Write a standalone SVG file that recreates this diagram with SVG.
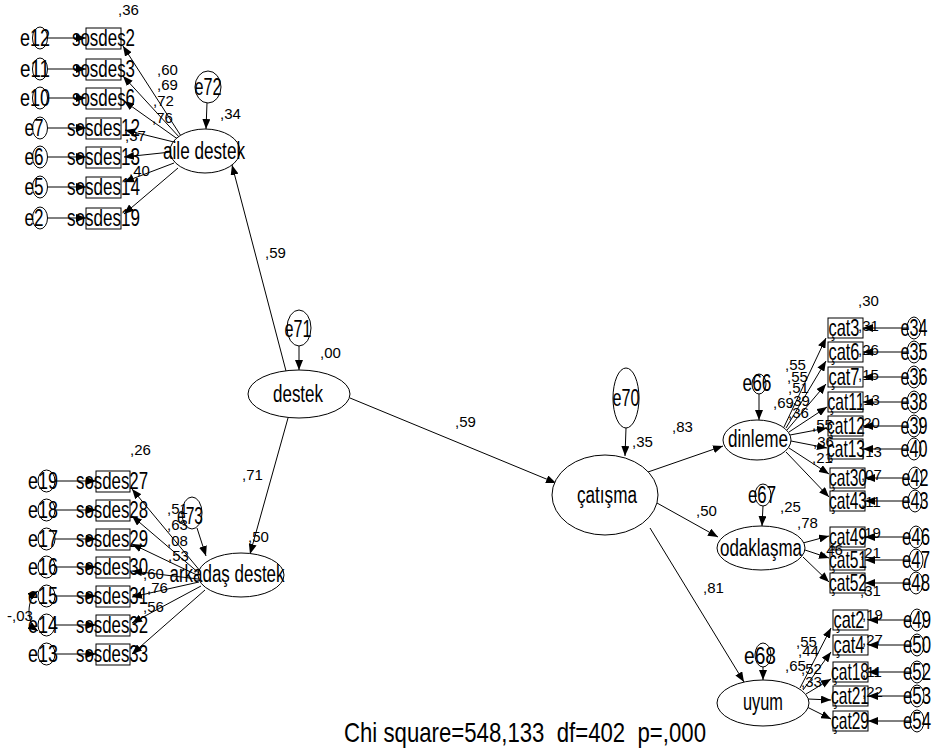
<svg xmlns="http://www.w3.org/2000/svg" width="939" height="751" viewBox="0 0 939 751">
<style>
text{font-family:"Liberation Sans",Arial,sans-serif;fill:#000}
.lb{font-size:24px;text-anchor:middle}
.lt{font-size:23px;text-anchor:middle}
.n{font-size:15px}
.chi{font-size:28px;white-space:pre}
.nd{fill:#fff;stroke:#000;stroke-width:1}
.a{stroke:#000;stroke-width:1;fill:none;marker-end:url(#ah)}
.cv{stroke:#000;stroke-width:1;fill:none;marker-end:url(#ah);marker-start:url(#ah)}
</style>
<defs>
<marker id="ah" viewBox="0 0 10 8" refX="10" refY="4" markerWidth="10" markerHeight="8" markerUnits="userSpaceOnUse" orient="auto-start-reverse"><path d="M0,0L10,4L0,8z" fill="#000"/></marker>
</defs>
<rect width="939" height="751" fill="#fff"/>
<g id="connectors">
<line class="a" x1="47.5" y1="38" x2="86" y2="38"/>
<line class="a" x1="47.5" y1="69" x2="86" y2="69"/>
<line class="a" x1="47.5" y1="98" x2="86" y2="98"/>
<line class="a" x1="47.5" y1="128" x2="86" y2="128"/>
<line class="a" x1="47.5" y1="157" x2="86" y2="157"/>
<line class="a" x1="47.5" y1="187" x2="86" y2="187"/>
<line class="a" x1="47.5" y1="218" x2="86" y2="218"/>
<line class="a" x1="181" y1="136" x2="123" y2="46"/>
<line class="a" x1="180" y1="138" x2="123" y2="76"/>
<line class="a" x1="179" y1="140" x2="124" y2="101"/>
<line class="a" x1="178" y1="143" x2="125" y2="130"/>
<line class="a" x1="171" y1="152" x2="124" y2="157"/>
<line class="a" x1="174" y1="163" x2="124" y2="182"/>
<line class="a" x1="178" y1="168" x2="124" y2="214"/>
<line class="a" x1="207" y1="103" x2="206" y2="129"/>
<line class="a" x1="55" y1="481" x2="96" y2="481"/>
<line class="a" x1="55" y1="510" x2="96" y2="510"/>
<line class="a" x1="55" y1="539" x2="96" y2="539"/>
<line class="a" x1="55" y1="567" x2="96" y2="567"/>
<line class="a" x1="55" y1="596" x2="96" y2="596"/>
<line class="a" x1="55" y1="625" x2="96" y2="625"/>
<line class="a" x1="55" y1="654" x2="96" y2="654"/>
<path class="cv" d="M38,591 C26,599 26,623 38,631"/>
<line class="a" x1="201" y1="572" x2="132" y2="489"/>
<line class="a" x1="200" y1="574" x2="132" y2="516"/>
<line class="a" x1="199" y1="576" x2="132" y2="544"/>
<line class="a" x1="198" y1="579" x2="132" y2="571"/>
<line class="a" x1="199" y1="582" x2="132" y2="597"/>
<line class="a" x1="201" y1="586" x2="132" y2="623"/>
<line class="a" x1="205" y1="590" x2="132" y2="654"/>
<line class="a" x1="197" y1="528" x2="206" y2="556"/>
<line class="a" x1="299" y1="346" x2="299" y2="370"/>
<line class="a" x1="286" y1="371" x2="232" y2="165"/>
<line class="a" x1="288" y1="418" x2="250" y2="554"/>
<line class="a" x1="350" y1="398" x2="556" y2="483"/>
<line class="a" x1="626" y1="428" x2="625" y2="456"/>
<line class="a" x1="648" y1="472" x2="723" y2="446"/>
<line class="a" x1="657" y1="503" x2="718" y2="537"/>
<line class="a" x1="650" y1="528" x2="744" y2="682"/>
<line class="a" x1="759" y1="394" x2="759" y2="420"/>
<line class="a" x1="763" y1="506" x2="762" y2="526"/>
<line class="a" x1="763" y1="667" x2="763" y2="680"/>
<line class="a" x1="784" y1="427" x2="826" y2="338"/>
<line class="a" x1="786" y1="428" x2="826" y2="361"/>
<line class="a" x1="787" y1="430" x2="826" y2="384"/>
<line class="a" x1="789" y1="432" x2="827" y2="407"/>
<line class="a" x1="790" y1="435" x2="827" y2="428"/>
<line class="a" x1="791" y1="441" x2="827" y2="448"/>
<line class="a" x1="789" y1="448" x2="829" y2="474"/>
<line class="a" x1="786" y1="452" x2="829" y2="497"/>
<line class="a" x1="908" y1="328" x2="863" y2="328"/>
<line class="a" x1="908" y1="352" x2="863" y2="352"/>
<line class="a" x1="908" y1="377" x2="863" y2="377"/>
<line class="a" x1="908" y1="402" x2="863" y2="402"/>
<line class="a" x1="908" y1="426" x2="863" y2="426"/>
<line class="a" x1="908" y1="449" x2="863" y2="449"/>
<line class="a" x1="908" y1="478" x2="865" y2="478"/>
<line class="a" x1="908" y1="501" x2="865" y2="501"/>
<line class="a" x1="803" y1="543" x2="829" y2="536"/>
<line class="a" x1="805" y1="550" x2="829" y2="558"/>
<line class="a" x1="803" y1="557" x2="829" y2="582"/>
<line class="a" x1="909" y1="537" x2="865" y2="537"/>
<line class="a" x1="909" y1="560" x2="865" y2="560"/>
<line class="a" x1="909" y1="583" x2="865" y2="583"/>
<line class="a" x1="800" y1="688" x2="831" y2="628"/>
<line class="a" x1="803" y1="690" x2="831" y2="652"/>
<line class="a" x1="806" y1="694" x2="831" y2="679"/>
<line class="a" x1="808" y1="699" x2="831" y2="700"/>
<line class="a" x1="807" y1="707" x2="831" y2="719"/>
<line class="a" x1="910" y1="620" x2="868" y2="620"/>
<line class="a" x1="910" y1="645" x2="868" y2="645"/>
<line class="a" x1="910" y1="672" x2="868" y2="672"/>
<line class="a" x1="910" y1="696" x2="868" y2="696"/>
<line class="a" x1="910" y1="721" x2="868" y2="721"/>
</g>
<g id="e12"><ellipse class="nd" cx="40" cy="38" rx="7.5" ry="11"/><text class="lb" x="35" y="46" textLength="30" lengthAdjust="spacingAndGlyphs">e12</text></g>
<g id="e11"><ellipse class="nd" cx="40" cy="69" rx="7.5" ry="11"/><text class="lb" x="35" y="77" textLength="30" lengthAdjust="spacingAndGlyphs">e11</text></g>
<g id="e10"><ellipse class="nd" cx="40" cy="98" rx="7.5" ry="11"/><text class="lb" x="35" y="106" textLength="30" lengthAdjust="spacingAndGlyphs">e10</text></g>
<g id="e7"><ellipse class="nd" cx="40" cy="128" rx="7.5" ry="11"/><text class="lb" x="34" y="136" textLength="19" lengthAdjust="spacingAndGlyphs">e7</text></g>
<g id="e6"><ellipse class="nd" cx="40" cy="157" rx="7.5" ry="11"/><text class="lb" x="34" y="165" textLength="19" lengthAdjust="spacingAndGlyphs">e6</text></g>
<g id="e5"><ellipse class="nd" cx="40" cy="187" rx="7.5" ry="11"/><text class="lb" x="34" y="195" textLength="19" lengthAdjust="spacingAndGlyphs">e5</text></g>
<g id="e2"><ellipse class="nd" cx="40" cy="218" rx="7.5" ry="11"/><text class="lb" x="34" y="226" textLength="19" lengthAdjust="spacingAndGlyphs">e2</text></g>
<g id="sosdes2"><rect class="nd" x="86" y="28" width="35" height="21"/><text class="lb" x="103.5" y="46" textLength="63" lengthAdjust="spacingAndGlyphs">sosdes2</text></g>
<g id="sosdes3"><rect class="nd" x="86" y="59" width="35" height="21"/><text class="lb" x="103.5" y="77" textLength="63" lengthAdjust="spacingAndGlyphs">sosdes3</text></g>
<g id="sosdes6"><rect class="nd" x="86" y="88" width="35" height="21"/><text class="lb" x="103.5" y="106" textLength="63" lengthAdjust="spacingAndGlyphs">sosdes6</text></g>
<g id="sosdes12"><rect class="nd" x="86" y="118" width="35" height="21"/><text class="lb" x="103.5" y="136" textLength="73" lengthAdjust="spacingAndGlyphs">sosdes12</text></g>
<g id="sosdes13"><rect class="nd" x="86" y="147" width="35" height="21"/><text class="lb" x="103.5" y="165" textLength="73" lengthAdjust="spacingAndGlyphs">sosdes13</text></g>
<g id="sosdes14"><rect class="nd" x="86" y="177" width="35" height="21"/><text class="lb" x="103.5" y="195" textLength="73" lengthAdjust="spacingAndGlyphs">sosdes14</text></g>
<g id="sosdes19"><rect class="nd" x="86" y="208" width="35" height="21"/><text class="lb" x="103.5" y="226" textLength="73" lengthAdjust="spacingAndGlyphs">sosdes19</text></g>
<g id="aile_destek"><ellipse class="nd" cx="205" cy="151" rx="35" ry="22"/><text class="lt" x="204" y="159" textLength="82" lengthAdjust="spacingAndGlyphs">aile destek</text></g>
<g id="e72"><ellipse class="nd" cx="208" cy="87" rx="13" ry="16"/><text class="lt" x="208" y="95" textLength="27" lengthAdjust="spacingAndGlyphs">e72</text></g>
<g id="e19"><ellipse class="nd" cx="46.5" cy="481" rx="8.5" ry="11"/><text class="lb" x="43" y="489" textLength="30" lengthAdjust="spacingAndGlyphs">e19</text></g>
<g id="e18"><ellipse class="nd" cx="46.5" cy="510" rx="8.5" ry="11"/><text class="lb" x="43" y="518" textLength="30" lengthAdjust="spacingAndGlyphs">e18</text></g>
<g id="e17"><ellipse class="nd" cx="46.5" cy="539" rx="8.5" ry="11"/><text class="lb" x="43" y="547" textLength="30" lengthAdjust="spacingAndGlyphs">e17</text></g>
<g id="e16"><ellipse class="nd" cx="46.5" cy="567" rx="8.5" ry="11"/><text class="lb" x="43" y="575" textLength="30" lengthAdjust="spacingAndGlyphs">e16</text></g>
<g id="e15"><ellipse class="nd" cx="46.5" cy="596" rx="8.5" ry="11"/><text class="lb" x="43" y="604" textLength="30" lengthAdjust="spacingAndGlyphs">e15</text></g>
<g id="e14"><ellipse class="nd" cx="46.5" cy="625" rx="8.5" ry="11"/><text class="lb" x="43" y="633" textLength="30" lengthAdjust="spacingAndGlyphs">e14</text></g>
<g id="e13"><ellipse class="nd" cx="46.5" cy="654" rx="8.5" ry="11"/><text class="lb" x="43" y="662" textLength="30" lengthAdjust="spacingAndGlyphs">e13</text></g>
<g id="sosdes27"><rect class="nd" x="96" y="471" width="34" height="21"/><text class="lb" x="112" y="489" textLength="72" lengthAdjust="spacingAndGlyphs">sosdes27</text></g>
<g id="sosdes28"><rect class="nd" x="96" y="500" width="34" height="21"/><text class="lb" x="112" y="518" textLength="72" lengthAdjust="spacingAndGlyphs">sosdes28</text></g>
<g id="sosdes29"><rect class="nd" x="96" y="529" width="34" height="21"/><text class="lb" x="112" y="547" textLength="72" lengthAdjust="spacingAndGlyphs">sosdes29</text></g>
<g id="sosdes30"><rect class="nd" x="96" y="557" width="34" height="21"/><text class="lb" x="112" y="575" textLength="72" lengthAdjust="spacingAndGlyphs">sosdes30</text></g>
<g id="sosdes31"><rect class="nd" x="96" y="586" width="34" height="21"/><text class="lb" x="112" y="604" textLength="72" lengthAdjust="spacingAndGlyphs">sosdes31</text></g>
<g id="sosdes32"><rect class="nd" x="96" y="615" width="34" height="21"/><text class="lb" x="112" y="633" textLength="72" lengthAdjust="spacingAndGlyphs">sosdes32</text></g>
<g id="sosdes33"><rect class="nd" x="96" y="644" width="34" height="21"/><text class="lb" x="112" y="662" textLength="72" lengthAdjust="spacingAndGlyphs">sosdes33</text></g>
<g id="arkadas_destek"><ellipse class="nd" cx="241" cy="575" rx="43" ry="22"/><text class="lt" x="227" y="582" textLength="115" lengthAdjust="spacingAndGlyphs">arkadaş destek</text></g>
<g id="e73"><ellipse class="nd" cx="192" cy="513" rx="10" ry="16"/><text class="lt" x="190" y="524" textLength="26" lengthAdjust="spacingAndGlyphs">e73</text></g>
<g id="destek"><ellipse class="nd" cx="299" cy="394" rx="51" ry="24"/><text class="lt" x="298" y="402" textLength="50" lengthAdjust="spacingAndGlyphs">destek</text></g>
<g id="e71"><ellipse class="nd" cx="299" cy="328" rx="12" ry="18"/><text class="lt" x="298" y="337" textLength="27" lengthAdjust="spacingAndGlyphs">e71</text></g>
<g id="catisma"><ellipse class="nd" cx="605" cy="495" rx="53" ry="40"/><text class="lt" x="607" y="503" textLength="60" lengthAdjust="spacingAndGlyphs">çatışma</text></g>
<g id="e70"><ellipse class="nd" cx="626" cy="398" rx="13" ry="30"/><text class="lt" x="626" y="406" textLength="27" lengthAdjust="spacingAndGlyphs">e70</text></g>
<g id="dinleme"><ellipse class="nd" cx="757" cy="440" rx="34" ry="20"/><text class="lt" x="758" y="447" textLength="60" lengthAdjust="spacingAndGlyphs">dinleme</text></g>
<g id="e66"><ellipse class="nd" cx="759" cy="384" rx="7" ry="10"/><text class="lt" x="757" y="391" textLength="29" lengthAdjust="spacingAndGlyphs">e66</text></g>
<g id="cat3"><rect class="nd" x="828" y="318" width="35" height="20"/><text class="lb" x="844" y="336" textLength="31" lengthAdjust="spacingAndGlyphs">çat3</text></g>
<g id="cat6"><rect class="nd" x="828" y="342" width="35" height="20"/><text class="lb" x="844" y="360" textLength="31" lengthAdjust="spacingAndGlyphs">çat6</text></g>
<g id="cat7"><rect class="nd" x="828" y="367" width="35" height="20"/><text class="lb" x="844" y="385" textLength="31" lengthAdjust="spacingAndGlyphs">çat7</text></g>
<g id="cat11"><rect class="nd" x="828" y="392" width="35" height="20"/><text class="lb" x="846" y="410" textLength="37" lengthAdjust="spacingAndGlyphs">çat11</text></g>
<g id="cat12"><rect class="nd" x="828" y="416" width="35" height="20"/><text class="lb" x="846" y="434" textLength="38" lengthAdjust="spacingAndGlyphs">çat12</text></g>
<g id="cat13"><rect class="nd" x="828" y="439" width="35" height="20"/><text class="lb" x="846" y="457" textLength="38" lengthAdjust="spacingAndGlyphs">çat13</text></g>
<g id="cat30"><rect class="nd" x="830" y="468" width="35" height="20"/><text class="lb" x="848" y="486" textLength="38" lengthAdjust="spacingAndGlyphs">çat30</text></g>
<g id="cat43"><rect class="nd" x="830" y="491" width="35" height="20"/><text class="lb" x="848" y="509" textLength="38" lengthAdjust="spacingAndGlyphs">çat43</text></g>
<g id="e34"><ellipse class="nd" cx="914" cy="328" rx="7" ry="11"/><text class="lb" x="914" y="336" textLength="27" lengthAdjust="spacingAndGlyphs">e34</text></g>
<g id="e35"><ellipse class="nd" cx="914" cy="352" rx="7" ry="11"/><text class="lb" x="914" y="360" textLength="27" lengthAdjust="spacingAndGlyphs">e35</text></g>
<g id="e36"><ellipse class="nd" cx="914" cy="377" rx="7" ry="11"/><text class="lb" x="914" y="385" textLength="27" lengthAdjust="spacingAndGlyphs">e36</text></g>
<g id="e38"><ellipse class="nd" cx="914" cy="402" rx="7" ry="11"/><text class="lb" x="914" y="410" textLength="27" lengthAdjust="spacingAndGlyphs">e38</text></g>
<g id="e39"><ellipse class="nd" cx="914" cy="426" rx="7" ry="11"/><text class="lb" x="914" y="434" textLength="27" lengthAdjust="spacingAndGlyphs">e39</text></g>
<g id="e40"><ellipse class="nd" cx="914" cy="449" rx="7" ry="11"/><text class="lb" x="914" y="457" textLength="27" lengthAdjust="spacingAndGlyphs">e40</text></g>
<g id="e42"><ellipse class="nd" cx="915" cy="478" rx="7" ry="11"/><text class="lb" x="915" y="486" textLength="27" lengthAdjust="spacingAndGlyphs">e42</text></g>
<g id="e43"><ellipse class="nd" cx="915" cy="501" rx="7" ry="11"/><text class="lb" x="915" y="509" textLength="27" lengthAdjust="spacingAndGlyphs">e43</text></g>
<g id="odaklasma"><ellipse class="nd" cx="761" cy="548" rx="44" ry="22"/><text class="lt" x="761" y="556" textLength="82" lengthAdjust="spacingAndGlyphs">odaklaşma</text></g>
<g id="e67"><ellipse class="nd" cx="763" cy="495" rx="8" ry="11"/><text class="lt" x="762" y="503" textLength="28" lengthAdjust="spacingAndGlyphs">e67</text></g>
<g id="cat49"><rect class="nd" x="830" y="527" width="35" height="20"/><text class="lb" x="848" y="545" textLength="38" lengthAdjust="spacingAndGlyphs">çat49</text></g>
<g id="cat51"><rect class="nd" x="830" y="550" width="35" height="20"/><text class="lb" x="848" y="568" textLength="38" lengthAdjust="spacingAndGlyphs">çat51</text></g>
<g id="cat52"><rect class="nd" x="830" y="573" width="35" height="20"/><text class="lb" x="848" y="591" textLength="38" lengthAdjust="spacingAndGlyphs">çat52</text></g>
<g id="e46"><ellipse class="nd" cx="916" cy="537" rx="7" ry="11"/><text class="lb" x="916" y="545" textLength="28" lengthAdjust="spacingAndGlyphs">e46</text></g>
<g id="e47"><ellipse class="nd" cx="916" cy="560" rx="7" ry="11"/><text class="lb" x="916" y="568" textLength="28" lengthAdjust="spacingAndGlyphs">e47</text></g>
<g id="e48"><ellipse class="nd" cx="916" cy="583" rx="7" ry="11"/><text class="lb" x="916" y="591" textLength="28" lengthAdjust="spacingAndGlyphs">e48</text></g>
<g id="uyum"><ellipse class="nd" cx="763" cy="703" rx="46" ry="23"/><text class="lt" x="763" y="710" textLength="40" lengthAdjust="spacingAndGlyphs">uyum</text></g>
<g id="e68"><ellipse class="nd" cx="763" cy="655" rx="8" ry="12"/><text class="lt" x="760" y="664" textLength="32" lengthAdjust="spacingAndGlyphs">e68</text></g>
<g id="cat2"><rect class="nd" x="833" y="610" width="35" height="20"/><text class="lb" x="849" y="628" textLength="31" lengthAdjust="spacingAndGlyphs">çat2</text></g>
<g id="cat4"><rect class="nd" x="833" y="635" width="35" height="20"/><text class="lb" x="849" y="653" textLength="31" lengthAdjust="spacingAndGlyphs">çat4</text></g>
<g id="cat18"><rect class="nd" x="833" y="662" width="35" height="20"/><text class="lb" x="850" y="680" textLength="38" lengthAdjust="spacingAndGlyphs">çat18</text></g>
<g id="cat21"><rect class="nd" x="833" y="686" width="35" height="20"/><text class="lb" x="850" y="704" textLength="38" lengthAdjust="spacingAndGlyphs">çat21</text></g>
<g id="cat29"><rect class="nd" x="833" y="711" width="35" height="20"/><text class="lb" x="850" y="729" textLength="38" lengthAdjust="spacingAndGlyphs">çat29</text></g>
<g id="e49"><ellipse class="nd" cx="917" cy="620" rx="7" ry="11"/><text class="lb" x="917" y="628" textLength="28" lengthAdjust="spacingAndGlyphs">e49</text></g>
<g id="e50"><ellipse class="nd" cx="917" cy="645" rx="7" ry="11"/><text class="lb" x="917" y="653" textLength="28" lengthAdjust="spacingAndGlyphs">e50</text></g>
<g id="e52"><ellipse class="nd" cx="917" cy="672" rx="7" ry="11"/><text class="lb" x="917" y="680" textLength="28" lengthAdjust="spacingAndGlyphs">e52</text></g>
<g id="e53"><ellipse class="nd" cx="917" cy="696" rx="7" ry="11"/><text class="lb" x="917" y="704" textLength="28" lengthAdjust="spacingAndGlyphs">e53</text></g>
<g id="e54"><ellipse class="nd" cx="917" cy="721" rx="7" ry="11"/><text class="lb" x="917" y="729" textLength="28" lengthAdjust="spacingAndGlyphs">e54</text></g>
<g id="labels">
<text class="n" x="118" y="15">,36</text>
<text class="n" x="220" y="119">,34</text>
<text class="n" x="157" y="75">,60</text>
<text class="n" x="157" y="90">,69</text>
<text class="n" x="153" y="106">,72</text>
<text class="n" x="152" y="123">,76</text>
<text class="n" x="125" y="141">,37</text>
<text class="n" x="129" y="176">,40</text>
<text class="n" x="265" y="258">,59</text>
<text class="n" x="320" y="358">,00</text>
<text class="n" x="242" y="480">,71</text>
<text class="n" x="248" y="542">,50</text>
<text class="n" x="455" y="427">,59</text>
<text class="n" x="632" y="447">,35</text>
<text class="n" x="130" y="455">,26</text>
<text class="n" x="167" y="514">,51</text>
<text class="n" x="167" y="530">,63</text>
<text class="n" x="167" y="546">,08</text>
<text class="n" x="168" y="561">,53</text>
<text class="n" x="143" y="579">,60</text>
<text class="n" x="147" y="593">,76</text>
<text class="n" x="143" y="612">,56</text>
<text class="n" x="7" y="621">-,03</text>
<text class="n" x="672" y="432">,83</text>
<text class="n" x="696" y="516">,50</text>
<text class="n" x="703" y="593">,81</text>
<text class="n" x="858" y="306">,30</text>
<text class="n" x="780" y="512">,25</text>
<text class="n" x="797" y="528">,78</text>
<text class="n" x="785" y="370">,55</text>
<text class="n" x="787" y="382">,55</text>
<text class="n" x="788" y="393">,51</text>
<text class="n" x="773" y="408">,69</text>
<text class="n" x="789" y="406">,39</text>
<text class="n" x="788" y="418">,36</text>
<text class="n" x="812" y="430">,55</text>
<text class="n" x="813" y="447">,36</text>
<text class="n" x="812" y="463">,21</text>
<text class="n" x="858" y="331">,31</text>
<text class="n" x="858" y="355">,26</text>
<text class="n" x="858" y="380">,15</text>
<text class="n" x="859" y="405">,13</text>
<text class="n" x="859" y="428">,20</text>
<text class="n" x="861" y="457">,13</text>
<text class="n" x="861" y="480">,07</text>
<text class="n" x="861" y="507">,11</text>
<text class="n" x="822" y="555">,46</text>
<text class="n" x="860" y="538">,19</text>
<text class="n" x="860" y="558">,21</text>
<text class="n" x="860" y="596">,31</text>
<text class="n" x="796" y="647">,55</text>
<text class="n" x="798" y="656">,44</text>
<text class="n" x="785" y="671">,65</text>
<text class="n" x="801" y="674">,52</text>
<text class="n" x="801" y="687">,33</text>
<text class="n" x="862" y="620">,19</text>
<text class="n" x="862" y="645">,27</text>
<text class="n" x="862" y="677">,11</text>
<text class="n" x="862" y="697">,22</text>
<text class="chi" x="344" y="742" textLength="362" lengthAdjust="spacingAndGlyphs" xml:space="preserve">Chi square=548,133  df=402  p=,000</text>
</g>
</svg>
